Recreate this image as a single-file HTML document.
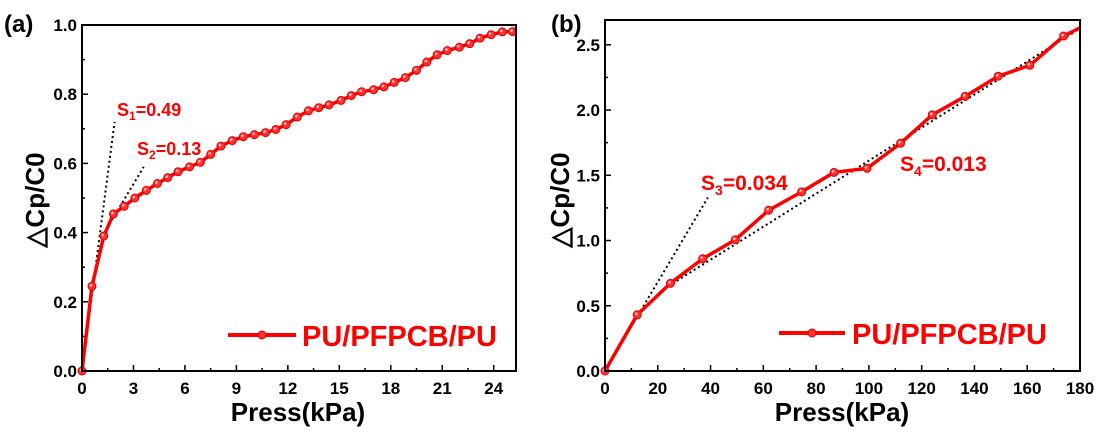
<!DOCTYPE html>
<html><head><meta charset="utf-8"><style>
body{margin:0;background:#fff;}
svg{display:block;font-family:"Liberation Sans",Arial,sans-serif;font-weight:bold;}
</style></head><body>
<svg id="c" width="1113" height="433" viewBox="0 0 1113 433"></svg>
<script>
const aX=[0,0.58,1.27,1.83,2.46,3.08,3.75,4.4,5.0,5.6,6.27,6.9,7.5,8.1,8.76,9.4,10.05,10.7,11.3,11.9,12.55,13.2,13.8,14.4,15.1,15.7,16.3,17.0,17.6,18.2,18.85,19.5,20.1,20.7,21.3,22.0,22.6,23.2,23.85,24.5,25.1];
const aY=[0,0.245,0.39,0.454,0.476,0.50,0.522,0.542,0.559,0.576,0.59,0.603,0.626,0.65,0.666,0.677,0.683,0.689,0.698,0.712,0.734,0.752,0.761,0.769,0.782,0.796,0.807,0.813,0.821,0.834,0.848,0.869,0.893,0.914,0.926,0.936,0.946,0.962,0.972,0.98,0.981];
const bX=[0,12.2,24.8,37,49.4,62,74.5,86.8,99.3,112,124,136.5,149,161,173.8];
const bY=[0,0.431,0.672,0.86,1.006,1.232,1.373,1.522,1.553,1.745,1.963,2.105,2.259,2.343,2.567];
const bEnd=[180,2.63];
const aXTicks=[0,3,6,9,12,15,18,21,24];
const aYTicks=[0,0.2,0.4,0.6,0.8,1.0];
const bXTicks=[0,20,40,60,80,100,120,140,160,180];
const bYTicks=[0,0.5,1.0,1.5,2.0,2.5];
const aFits=[[[0,0],[1.9,0.72]],[[1.3,0.4],[3.6,0.59]]];
const bFits=[[[0,0],[39,1.33]],[[24,0.65],[178,2.6]]];

const NS="http://www.w3.org/2000/svg";
const svg=document.getElementById('c');
function mk(t,a,p){const e=document.createElementNS(NS,t);for(const k in a)e.setAttribute(k,a[k]);(p||svg).appendChild(e);return e;}

function panel(o){
  const g=mk('g',{});
  
  
  const sx=v=>o.x0+(v-o.xmin)/(o.xmax-o.xmin)*(o.x1-o.x0);
  const sy=v=>o.y0-(v-o.ymin)/(o.ymax-o.ymin)*(o.y0-o.y1);
  o.xt.forEach((t,i)=>{
    const x=sx(t);
    const tk=mk('line',{x1:x,x2:x,y1:o.y0,y2:o.y0-6,stroke:'#000','stroke-width':1.5},g);
    
    const lb=mk('text',{x:x,y:o.y0+23,'text-anchor':'middle','font-size':17},g);lb.textContent=o.xfmt(t);
    
    if(i<o.xt.length-1){const m=sx((t+o.xt[i+1])/2);mk('line',{x1:m,x2:m,y1:o.y0,y2:o.y0-3,stroke:'#000','stroke-width':1.5},g);}
  });
  o.yt.forEach((t,i)=>{
    const y=sy(t);
    const tk=mk('line',{x1:o.x0,x2:o.x0+6,y1:y,y2:y,stroke:'#000','stroke-width':1.5},g);
    
    const lb=mk('text',{x:o.x0-5,y:y+6,'text-anchor':'end','font-size':17},g);lb.textContent=t.toFixed(1);
    
    if(i<o.yt.length-1){const m=sy((t+o.yt[i+1])/2);mk('line',{x1:o.x0,x2:o.x0+3,y1:m,y2:m,stroke:'#000','stroke-width':1.5},g);}
  });
  o.fits.forEach(f=>{
    const l=mk('line',{x1:sx(f[0][0]),y1:sy(f[0][1]),x2:sx(f[1][0]),y2:sy(f[1][1]),stroke:'#000','stroke-width':2,'stroke-dasharray':'2,3'},g);
    
  });
  let pts=o.xs.map((x,i)=>sx(x)+','+sy(o.ys[i]));
  if(o.end)pts.push(sx(o.end[0])+','+sy(o.end[1]));
  const pl=mk('polyline',{points:pts.join(' '),fill:'none',stroke:'#ff0000','stroke-width':3.5,'stroke-linejoin':'round'},g);
  
  o.xs.forEach((x,i)=>{
    const c=mk('circle',{cx:sx(x),cy:sy(o.ys[i]),r:4,fill:'#ff3030',stroke:'#e00000','stroke-width':1},g);
    
    mk('circle',{cx:sx(x)-1,cy:sy(o.ys[i])-1,r:1.3,fill:'#ffc0c0'},g);
  });
  const fr=mk('rect',{x:o.x0,y:o.y1,width:o.x1-o.x0,height:o.y0-o.y1,fill:'none',stroke:'#000','stroke-width':2},g);
  
  return g;
}

panel({name:'panel-a',x0:82,x1:516,y0:371,y1:25,xmin:0,xmax:25.3,ymin:0,ymax:1.0,xt:aXTicks,yt:aYTicks,xfmt:t=>String(t),xs:aX,ys:aY,fits:aFits});
panel({name:'panel-b',x0:605,x1:1080,y0:371,y1:20,xmin:0,xmax:180,ymin:0,ymax:2.69,xt:bXTicks,yt:bYTicks,xfmt:t=>String(t),xs:bX,ys:bY,end:bEnd,fits:bFits});
</script>
<svg width="1113" height="433" viewBox="0 0 1113 433" style="position:absolute;left:0;top:0;font-family:'Liberation Sans',Arial,sans-serif;font-weight:bold;">
  <text x="4" y="32" font-size="24">(a)</text>
  <text x="551" y="32" font-size="24">(b)</text>
  <text transform="translate(44,200) rotate(-90)" text-anchor="middle" font-size="26">△Cp/C0</text>
  <text transform="translate(569,200) rotate(-90)" text-anchor="middle" font-size="26">△Cp/C0</text>
  <text x="298" y="421" text-anchor="middle" font-size="26">Press(kPa)</text>
  <text x="842" y="421" text-anchor="middle" font-size="26">Press(kPa)</text>
  <text x="117" y="116" font-size="18" fill="#ff0000">S<tspan font-size="12" dy="4">1</tspan><tspan dy="-4">=0.49</tspan></text>
  <text x="137" y="155" font-size="18" fill="#ff0000">S<tspan font-size="12" dy="4">2</tspan><tspan dy="-4">=0.13</tspan></text>
  <text x="701" y="190" font-size="21" fill="#ff0000">S<tspan font-size="14" dy="5">3</tspan><tspan dy="-5">=0.034</tspan></text>
  <text x="900" y="171" font-size="21" fill="#ff0000">S<tspan font-size="14" dy="5">4</tspan><tspan dy="-5">=0.013</tspan></text>
  <g>
    <line x1="228" y1="335" x2="296" y2="335" stroke="#ff0000" stroke-width="4"/>
    <circle cx="262" cy="335" r="4" fill="#ff3030" stroke="#e00000"/>
    <text x="302" y="346" font-size="29" fill="#ff0000">PU/PFPCB/PU</text>
  </g>
  <g>
    <line x1="779" y1="333" x2="845" y2="333" stroke="#ff0000" stroke-width="4"/>
    <circle cx="812" cy="333" r="4" fill="#ff3030" stroke="#e00000"/>
    <text x="852" y="344" font-size="29" fill="#ff0000">PU/PFPCB/PU</text>
  </g>
</svg>
</body></html>
